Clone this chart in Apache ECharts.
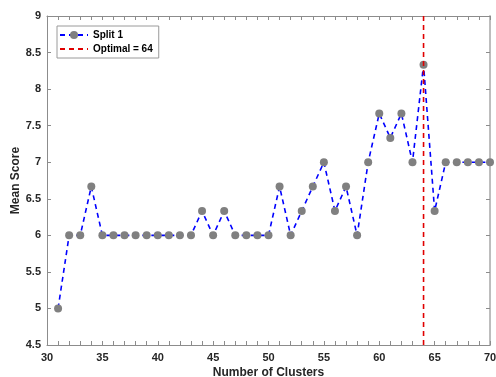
<!DOCTYPE html>
<html>
<head>
<meta charset="utf-8">
<script src="https://cdn.jsdelivr.net/npm/echarts@6/dist/echarts.min.js"></script>
<style>
  html, body { margin: 0; padding: 0; background: #fff; }
  #chart { width: 496px; height: 377px; }
</style>
</head>
<body>
<div id="chart"></div>
<script>
// Cluster counts and the mean score for each
const clusters = [31,32,33,34,35,36,37,38,39,40,41,42,43,44,45,46,47,48,49,50,
                  51,52,53,54,55,56,57,58,59,60,61,62,63,64,65,66,67,68,69,70];
const meanScores = [5, 6, 6, 6.667, 6, 6, 6, 6, 6, 6, 6, 6, 6, 6.333, 6, 6.333, 6, 6, 6, 6,
                    6.667, 6, 6.333, 6.667, 7, 6.333, 6.667, 6, 7, 7.667, 7.333, 7.667, 7, 8.333, 6.333, 7, 7, 7, 7, 7];
const optimalK = 64;
const yRange = [4.5, 9];

const FONT = 'Arial, "Liberation Sans", Helvetica, sans-serif';
const AXIS_COLOR = '#262626';
const EDGE_COLOR = '#8c8c8c';

const chart = echarts.init(document.getElementById('chart'));

const splitPoints = clusters.map((k, i) => [k, meanScores[i]]);
const optimalLine = yRange.map(v => [optimalK, v]);

const baseX = {
  type: 'value', min: 30, max: 70, interval: 5,
  axisLine: { show: true, onZero: false, lineStyle: { color: EDGE_COLOR, width: 1 } },
  axisTick: { show: true, inside: true, length: 4, lineStyle: { color: EDGE_COLOR } },
  minorTick: { show: true, splitNumber: 5, length: 4, lineStyle: { color: EDGE_COLOR } },
  splitLine: { show: false }
};
const baseY = {
  type: 'value', min: yRange[0], max: yRange[1], interval: 0.5,
  axisLine: { show: true, onZero: false, lineStyle: { color: EDGE_COLOR, width: 1 } },
  axisTick: { show: true, inside: true, length: 4, lineStyle: { color: EDGE_COLOR } },
  splitLine: { show: false }
};

chart.setOption({
  animation: false,
  backgroundColor: '#ffffff',
  grid: { left: 47, right: 6, top: 16, bottom: 32, containLabel: false, outerBoundsMode: 'none' },
  legend: {
    left: 57, top: 26,
    orient: 'vertical',
    backgroundColor: '#ffffff',
    borderColor: '#9a9a9a', borderWidth: 1,
    padding: [4, 6, 4, 2],
    itemGap: 4,
    itemWidth: 28, itemHeight: 10,
    textStyle: { fontFamily: FONT, fontWeight: 'bold', fontSize: 10, color: '#000' },
    data: [
      { name: 'Split 1' },
      { name: 'Optimal = ' + optimalK, itemStyle: { opacity: 0 } }
    ]
  },
  xAxis: [
    Object.assign({}, baseX, {
      position: 'bottom',
      name: 'Number of Clusters', nameLocation: 'middle', nameGap: 22, nameMoveOverlap: false,
      nameTextStyle: { fontFamily: FONT, fontWeight: 'bold', fontSize: 12, color: AXIS_COLOR },
      axisLabel: { fontFamily: FONT, fontWeight: 'bold', fontSize: 11, color: AXIS_COLOR, margin: 7 }
    }),
    Object.assign({}, baseX, { position: 'top', axisLabel: { show: false } })
  ],
  yAxis: [
    Object.assign({}, baseY, {
      position: 'left',
      name: 'Mean Score', nameLocation: 'middle', nameGap: 25, nameRotate: 90, nameMoveOverlap: false,
      nameTextStyle: { fontFamily: FONT, fontWeight: 'bold', fontSize: 12, color: AXIS_COLOR },
      axisLabel: { fontFamily: FONT, fontWeight: 'bold', fontSize: 11, color: AXIS_COLOR, margin: 6 }
    }),
    Object.assign({}, baseY, {
      position: 'right', axisLabel: { show: false },
      axisLine: { show: true, onZero: false, lineStyle: { color: '#bdbdbd', width: 2 } }
    })
  ],
  series: [
    {
      name: 'Split 1',
      type: 'line',
      data: splitPoints,
      symbol: 'circle', symbolSize: 8,
      itemStyle: { color: '#808080' },
      lineStyle: { color: '#0000ff', width: 1.6, type: [5, 4] },
      z: 3
    },
    {
      name: 'Optimal = ' + optimalK,
      type: 'line',
      data: optimalLine,
      symbol: 'none',
      itemStyle: { color: '#e00000' },
      lineStyle: { color: '#e00000', width: 1.6, type: [5, 4] },
      z: 4
    }
  ]
});
</script>
</body>
</html>
